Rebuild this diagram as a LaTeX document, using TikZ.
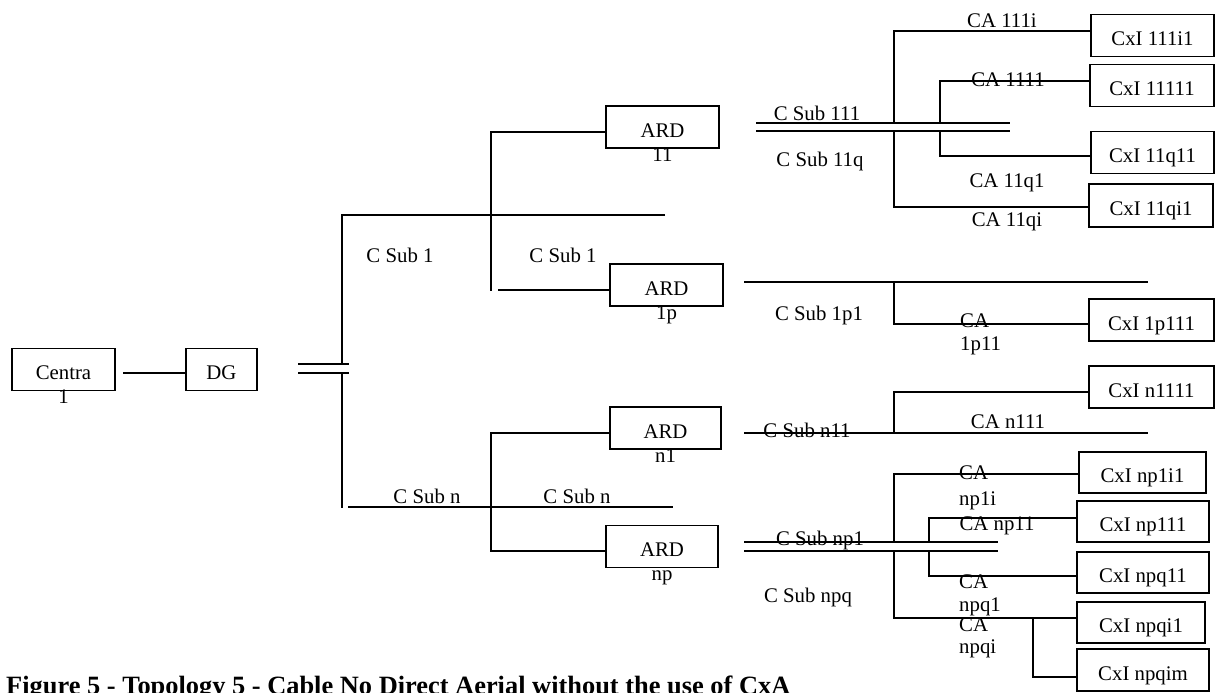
\documentclass[tikz,border=0pt]{standalone}
\usepackage{fontspec}
\setmainfont{Liberation Serif}
\usetikzlibrary{calc}
\begin{document}
\begin{tikzpicture}[x=1pt,y=-1pt,
  line/.style={line width=1.9pt},
  box/.style={draw,line width=1.9pt,inner sep=0pt,minimum height=42pt,text height=20pt,text depth=0pt,font=\fontsize{20.8}{24}\selectfont},
  cxi/.style={box,minimum width=124pt},
  lbl/.style={inner sep=0pt,anchor=base,font=\fontsize{20.8}{24}\selectfont},
  lblw/.style={lbl,anchor=base west}]
\useasboundingbox (0,0) rectangle (1216,693);

% boxes
\node[box,minimum width=103pt] (centra) at (63.5,369.5) {Centra};
\node[lbl] (centra2) at ($(centra.center)+(0,34)$) {1};
\node[box,minimum width=71pt] (dg) at (221.5,369.5) {DG};
\node[box,minimum width=113pt] (ard11) at (662.5,127) {ARD};
\node[lbl] (ard11b) at ($(ard11.center)+(0,34)$) {11};
\node[box,minimum width=113pt] (ard1p) at (666.5,285) {ARD};
\node[lbl] (ard1pb) at ($(ard1p.center)+(0,34)$) {1p};
\node[box,minimum width=111pt] (ardn1) at (665.5,428) {ARD};
\node[lbl] (ardn1b) at ($(ardn1.center)+(0,34)$) {n1};
\node[box,minimum width=112pt] (ardnp) at (662,546.5) {ARD};
\node[lbl] (ardnpb) at ($(ardnp.center)+(0,34)$) {np};

\node[cxi,minimum width=123pt] (c111i1) at (1152.5,35.5) {CxI 111i1};
\node[cxi] (c11111) at (1152,85.5) {CxI 11111};
\node[cxi,minimum width=123pt] (c11q11) at (1152.5,152.5) {CxI 11q11};
\node[cxi,minimum height=43pt] (c11qi1) at (1151,205.5) {CxI 11qi1};
\node[cxi,minimum width=125pt] (c1p111) at (1151.5,320) {CxI 1p111};
\node[cxi,minimum width=125pt] (cn1111) at (1151.5,387) {CxI n1111};
\node[cxi,minimum width=127pt,minimum height=41pt] (cnp1i1) at (1142.5,472.5) {CxI np1i1};
\node[cxi,minimum width=132pt,minimum height=41pt] (cnp111) at (1143,521.5) {CxI np111};
\node[cxi,minimum width=132pt,minimum height=41pt] (cnpq11) at (1143,572.5) {CxI npq11};
\node[cxi,minimum width=128pt,minimum height=41pt] (cnpqi1) at (1141,622.5) {CxI npqi1};
\node[cxi,minimum width=132pt] (cnpqim) at (1143,670) {CxI npqim};

% central office to DG
\coordinate (cd) at (123,373);
\draw[line] (cd) -- (cd -| dg.west);

% feeder split
\draw[line] (298,364) -- (349,364);
\draw[line] (298,373) -- (349,373);
\draw[line] (665,215) -- (342,215) -- (342,364);
\draw[line] (342,373) -- (342,508);
\draw[line] (348,507) -- (673,507);

% sub 1 branch
\coordinate (v1t) at (491,132);
\coordinate (v1b) at (491,291);
\draw[line] (v1t -| ard11.west) -- (v1t) -- (v1b);
\coordinate (h1p) at (498,290);
\draw[line] (h1p) -- (h1p -| ard1p.west);

% sub n branch
\coordinate (v2t) at (491,433);
\coordinate (v2b) at (491,551);
\draw[line] (v2t -| ardn1.west) -- (v2t) -- (v2b) -- (v2b -| ardnp.west);

% right of ARD 11
\draw[line] (756,123) -- (1010,123);
\draw[line] (756,131) -- (1010,131);
\coordinate (a1) at (894,31);
\coordinate (a2) at (894,207);
\coordinate (b1) at (940,81);
\coordinate (b2) at (940,156);
\draw[line] (a1 -| c111i1.west) -- (a1) -- (894,123);
\draw[line] (894,131) -- (a2) -- (a2 -| c11qi1.west);
\draw[line] (b1 -| c11111.west) -- (b1) -- (940,123);
\draw[line] (940,131) -- (b2) -- (b2 -| c11q11.west);

% right of ARD 1p
\draw[line] (744,282) -- (1148,282);
\coordinate (p1) at (894,324);
\draw[line] (894,282) -- (p1) -- (p1 -| c1p111.west);

% right of ARD n1
\draw[line] (744,433) -- (1148,433);
\coordinate (n1) at (894,392);
\draw[line] (894,433) -- (n1) -- (n1 -| cn1111.west);

% right of ARD np
\draw[line] (744,542) -- (998,542);
\draw[line] (744,551) -- (998,551);
\coordinate (d1) at (894,474);
\coordinate (d2) at (894,618);
\coordinate (e1) at (929,518);
\coordinate (e2) at (929,576);
\coordinate (f1) at (1033,677);
\draw[line] (d1 -| cnp1i1.west) -- (d1) -- (894,542);
\draw[line] (894,551) -- (d2) -- (d2 -| cnpqi1.west);
\draw[line] (e1 -| cnp111.west) -- (e1) -- (929,542);
\draw[line] (929,551) -- (e2) -- (e2 -| cnpq11.west);
\draw[line] (1033,618) -- (f1) -- (f1 -| cnpqim.west);

% labels
\node[lbl] (l1) at (400,262) {C Sub 1};
\node[lbl] (l2) at (563,262) {C Sub 1};
\node[lbl] (l3) at (427,503) {C Sub n};
\node[lbl] (l4) at (577,503) {C Sub n};
\node[lbl] (l5) at (817,120) {C Sub 111};
\node[lbl] (l6) at (820,166) {C Sub 11q};
\node[lbl] (l7) at (1002,28) {CA 111i};
\node[lbl] (l8) at (1008,87) {CA 1111};
\node[lbl] (l9) at (1007,187) {CA 11q1};
\node[lbl] (l10) at (1007,226) {CA 11qi};
\node[lbl] (l11) at (819,320) {C Sub 1p1};
\node[lblw] (l12) at (960,327) {CA};
\node[lblw] (l12b) at (960,350) {1p11};
\node[lbl] (l13) at (807,437) {C Sub n11};
\node[lbl] (l14) at (1008,428) {CA n111};
\node[lbl] (l15) at (820,545) {C Sub np1};
\node[lbl] (l16) at (808,602) {C Sub npq};
\node[lblw] (l17) at (959,479) {CA};
\node[lblw] (l17b) at (959,505) {np1i};
\node[lbl] (l18) at (997,530) {CA np11};
\node[lblw] (l19) at (959,588) {CA};
\node[lblw] (l19b) at (959,611) {npq1};
\node[lblw] (l20) at (959,631) {CA};
\node[lblw] (l20b) at (959,653) {npqi};

% caption
\node[inner sep=0pt,anchor=base west,font=\bfseries\fontsize{26.4}{30}\selectfont] (cap) at (6,694) {Figure 5 - Topology 5 - Cable No Direct Aerial without the use of CxA};
\end{tikzpicture}
\end{document}
